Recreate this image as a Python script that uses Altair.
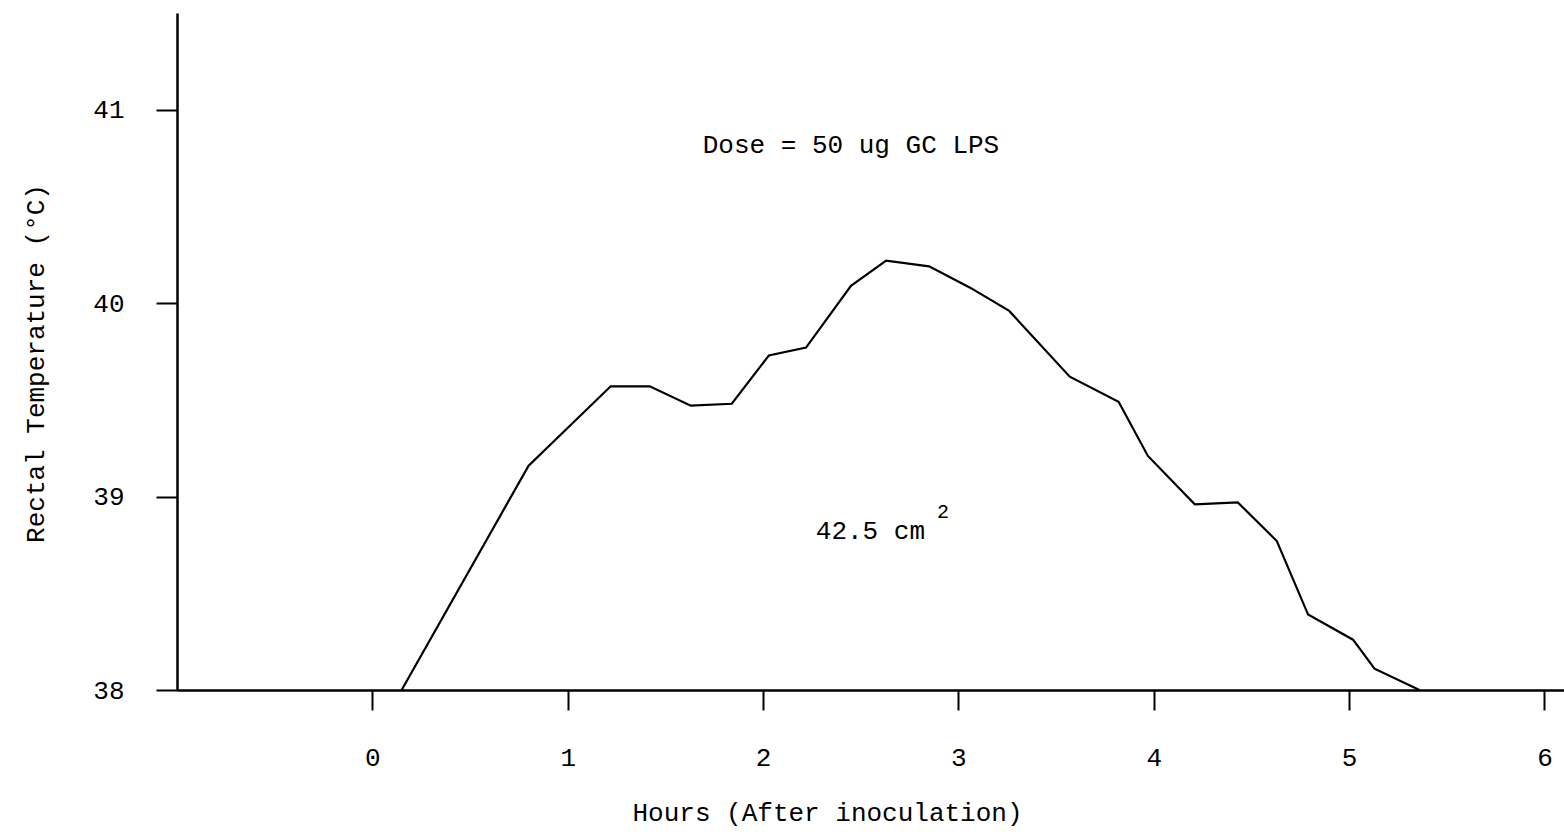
import altair as alt
import pandas as pd

# Values
hours = [0.15, 0.80, 1.22, 1.42, 1.63, 1.84, 2.03, 2.22, 2.45, 2.63, 2.85, 3.06,
         3.26, 3.57, 3.82, 3.97, 4.21, 4.43, 4.63, 4.79, 5.02, 5.13, 5.36]
temps = [38.00, 39.16, 39.57, 39.57, 39.47, 39.48, 39.73, 39.77, 40.09, 40.22, 40.19, 40.08,
         39.96, 39.62, 39.49, 39.21, 38.96, 38.97, 38.77, 38.39, 38.26, 38.11, 38.00]

x_ticks = [0, 1, 2, 3, 4, 5, 6]
y_ticks = [38, 39, 40, 41]

ann_text = ["Dose = 50 ug GC LPS", "42.5 cm", "2"]
ann_x = [2.45, 2.27, 2.89]
ann_y = [40.82, 38.82, 38.92]
ann_align = ["center", "left", "left"]
ann_size = [26, 26, 20]

FONT = "Liberation Mono"

df = pd.DataFrame({"hours": hours, "temp": temps})

x_scale = alt.Scale(domain=[-1, 6.1], nice=False, zero=False)
y_scale = alt.Scale(domain=[38, 41.5], nice=False, zero=False)

line = alt.Chart(df).mark_line(color="black", strokeWidth=2.2).encode(
    x=alt.X("hours:Q", scale=x_scale,
            axis=alt.Axis(values=x_ticks, title="Hours (After inoculation)", format="d",
                          tickSize=20, labelPadding=34, grid=False,
                          titleX=650, titleY=122, titleBaseline="middle",
                          titleAlign="center", titleFontSize=26,
                          labelFlush=False)),
    y=alt.Y("temp:Q", scale=y_scale,
            axis=alt.Axis(values=y_ticks, title="Rectal Temperature (°C)", format="d",
                          tickSize=21, labelPadding=32, grid=False,
                          titleX=-142, titleY=350, titleAngle=-90,
                          titleBaseline="middle", titleAlign="center",
                          titleFontSize=26)),
)

layers = [line]
for t, xv, yv, al, sz in zip(ann_text, ann_x, ann_y, ann_align, ann_size):
    adf = pd.DataFrame({"hours": [xv], "temp": [yv], "label": [t]})
    layers.append(
        alt.Chart(adf).mark_text(font=FONT, fontSize=sz, align=al, baseline="middle",
                                 color="black").encode(
            x=alt.X("hours:Q", scale=x_scale),
            y=alt.Y("temp:Q", scale=y_scale),
            text="label:N",
        )
    )

chart = alt.layer(*layers).properties(
    width=1387, height=677,
    autosize=alt.AutoSizeParams(type="none"),
    padding={"left": 177, "top": 13, "right": 0, "bottom": 142},
    background="white",
).configure_view(stroke=None).configure_axis(
    labelFont=FONT, titleFont=FONT, labelFontSize=26, titleFontWeight="normal",
    labelColor="black", titleColor="black", domainColor="black", tickColor="black",
    domainWidth=2.5, tickWidth=2,
)

chart.save("out.html", embed_options={"renderer": "svg", "actions": False})
